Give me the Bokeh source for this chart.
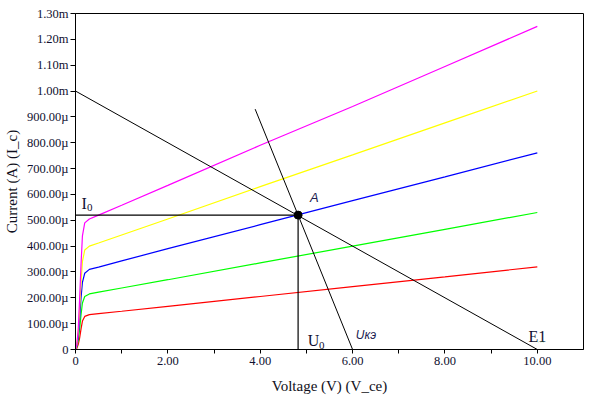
from bokeh.plotting import figure
from bokeh.models import Label, FixedTicker, Range1d, CustomJSTickFormatter
from bokeh.embed import file_html
from bokeh.resources import INLINE

# ---- data (current in µA, voltage in V) ----
v_ce = [0, 0.03, 0.06, 0.09, 0.12, 0.15, 0.2, 0.3, 0.5, 1, 2, 4, 6, 8, 10]
i_magenta = [0, 20, 80, 200, 330, 440, 490, 505, 520, 558, 635, 790, 940, 1095, 1250]
i_yellow = [0, 20, 70, 160, 260, 340, 385, 400, 412, 443, 505, 630, 753, 877, 1000]
i_blue = [0, 15, 50, 120, 200, 260, 295, 310, 319, 343, 390, 483, 576, 668, 761]
i_green = [0, 10, 35, 80, 135, 180, 205, 215, 222, 238, 270, 335, 400, 465, 530]
i_red = [0, 5, 20, 45, 80, 110, 128, 135, 139, 148, 167, 205, 243, 281, 320]

load_v = [0, 10]
load_i = [1000, 0]
uke_v = [3.89, 6.0]
uke_i = [930, 0]
q_v = 4.82
q_i = 520

x_ticks = [0, 2, 4, 6, 8, 10]
x_minor = [1, 3, 5, 7, 9]
x_labels = ["0", "2.00", "4.00", "6.00", "8.00", "10.00"]
y_ticks = [0, 100, 200, 300, 400, 500, 600, 700, 800, 900, 1000, 1100, 1200, 1300]
y_labels = ["0", "100.00µ", "200.00µ", "300.00µ", "400.00µ", "500.00µ", "600.00µ",
            "700.00µ", "800.00µ", "900.00µ", "1.00m", "1.10m", "1.20m", "1.30m"]

SERIF = "Liberation Serif"
SANS = "Liberation Sans"

p = figure(width=600, height=398, x_range=Range1d(0, 11), y_range=Range1d(0, 1300),
           output_backend="svg", toolbar_location=None,
           min_border_left=74, min_border_right=17, min_border_top=13, min_border_bottom=49)

p.xgrid.visible = False
p.ygrid.visible = False
p.outline_line_color = "black"
p.outline_line_alpha = 1.0
p.background_fill_color = "white"
p.border_fill_color = "white"

for ax in (p.xaxis[0], p.yaxis[0]):
    ax.axis_line_color = "black"
    ax.major_tick_line_color = "black"
    ax.minor_tick_line_color = "black"
    ax.major_tick_in = 0
    ax.minor_tick_in = 0
    ax.major_label_text_font = SERIF
    ax.major_label_text_font_size = "12.5px"
    ax.major_label_text_color = "#101030"
    ax.axis_label_text_font = SERIF
    ax.axis_label_text_font_size = "15px"
    ax.axis_label_text_font_style = "normal"
    ax.axis_label_text_color = "#101020"

JS = "const i = tv.indexOf(tick); return i >= 0 ? lv[i] : '';"
p.xaxis.ticker = FixedTicker(ticks=x_ticks, minor_ticks=x_minor)
p.xaxis.formatter = CustomJSTickFormatter(args=dict(tv=x_ticks, lv=x_labels), code=JS)
p.xaxis.major_tick_out = 4
p.xaxis.minor_tick_out = 4
p.xaxis.major_label_standoff = 3
p.xaxis.axis_label = "Voltage (V) (V_ce)"
p.xaxis.axis_label_standoff = 10

p.yaxis.ticker = FixedTicker(ticks=y_ticks, minor_ticks=[])
p.yaxis.formatter = CustomJSTickFormatter(args=dict(tv=y_ticks, lv=y_labels), code=JS)
p.yaxis.major_tick_out = 5
p.yaxis.major_label_standoff = 2
p.yaxis.axis_label = "Current (A) (I_c)"
p.yaxis.axis_label_standoff = 4

# characteristic curves
for ys, col in ((i_red, "#ff0000"), (i_green, "#00ff00"), (i_blue, "#0000ff"),
                (i_yellow, "#ffff00"), (i_magenta, "#ff00ff")):
    p.line(v_ce, ys, line_color=col, line_width=1.2)

# load lines
p.line(load_v, load_i, line_color="black", line_width=1)
p.line(uke_v, uke_i, line_color="black", line_width=1)
# operating-point projections
p.line([0, q_v], [q_i, q_i], line_color="black", line_width=1.2)
p.line([q_v, q_v], [0, q_i], line_color="black", line_width=1.2)
p.scatter([q_v], [q_i], size=8, color="black")

# annotations
def lab(x, y, t, font=SERIF, size="15px", style="normal", color="#101030"):
    p.add_layout(Label(x=x, y=y, text=t, text_font=font, text_font_size=size,
                       text_font_style=style, text_color=color,
                       text_baseline="alphabetic", text_align="left"))

lab(0.13, 566, "I", size="16px")
lab(0.25, 549, "0", size="11px")
lab(5.03, 33, "U", size="16px")
lab(5.27, 17, "0", size="11px")
lab(6.07, 56, "Uкэ", font=SANS, size="12px", style="italic", color="#202050")
lab(5.08, 589, "A", font=SANS, size="13px", style="italic", color="#202050")
lab(9.81, 52, "E1", size="16px")
# spell-check style green squiggle under the "1" of E1
p.add_layout(Label(x=9.99, y=40, text="﹏", text_font="DejaVu Sans", text_font_size="8px",
                   text_color="#22aa22", text_baseline="alphabetic", text_align="left"))

open("out.html", "w").write(file_html(p, INLINE))
